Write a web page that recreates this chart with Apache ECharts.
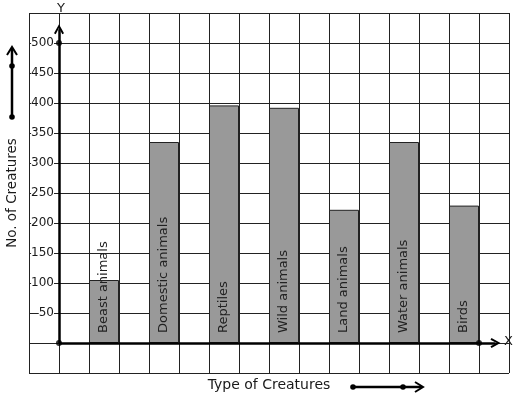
<!DOCTYPE html>
<html lang="en" style="height: 100%">
<head>
  <meta charset="utf-8">
</head>
<body style="height: 100%; margin: 0">
  <div id="container" style="width: 517px; height: 399px"></div>

  <script type="text/javascript" src="https://fastly.jsdelivr.net/npm/echarts@6/dist/echarts.min.js"></script>

  <script type="text/javascript">
    const creatures = ['Beast animals', 'Domestic animals', 'Reptiles', 'Wild animals', 'Land animals', 'Water animals', 'Birds'];
    const counts = [105, 335, 396, 392, 222, 335, 229];
    const yTicks = [50, 100, 150, 200, 250, 300, 350, 400, 450, 500];

    const font = 'DejaVu Sans';
    const ink = '#1a1a1a';

    // each bar sits in every second column of the squared paper
    const barData = creatures.map(function (name, i) {
      return { name: name, value: [1.5 + 2 * i, counts[i]] };
    });

    const chevron = 'path://M0,9 L5,0 L10,9 L8.3,10 L5,3.8 L1.7,10 Z';
    // the visible thick axes are mark lines; the axes themselves are shifted one square inwards
    const hiddenLine = { show: false, onZero: false };

    var dom = document.getElementById('container');
    var myChart = echarts.init(dom, null, { renderer: 'canvas' });

    var option = {
      animation: false,
      grid: { left: 29, right: 8, top: 13, bottom: 26, containLabel: false, outerBoundsMode: 'none' },
      xAxis: {
        type: 'value',
        min: -1,
        max: 15,
        interval: 1,
        offset: -30,
        name: 'Type of Creatures',
        nameLocation: 'middle',
        nameGap: 35,
        nameTextStyle: { fontFamily: font, fontSize: 14, color: ink },
        axisLine: hiddenLine,
        axisTick: { show: false },
        axisLabel: { show: false },
        splitLine: { show: true, lineStyle: { color: '#222', width: 1 } }
      },
      yAxis: {
        type: 'value',
        min: -50,
        max: 550,
        interval: 50,
        offset: -30,
        name: 'No. of Creatures',
        nameLocation: 'middle',
        nameGap: 40,
        nameRotate: 90,
        nameTextStyle: { fontFamily: font, fontSize: 13.5, color: ink },
        axisLine: hiddenLine,
        axisTick: { show: false },
        axisLabel: {
          margin: 5,
          fontFamily: font,
          fontSize: 12,
          color: ink,
          backgroundColor: '#fff',
          padding: [1, 0, 1, 0],
          formatter: function (v) { return yTicks.indexOf(v) >= 0 ? String(v) : ''; }
        },
        splitLine: { show: true, lineStyle: { color: '#222', width: 1 } }
      },
      series: [
        {
          type: 'bar',
          barWidth: 30,
          itemStyle: { color: '#999999', borderColor: '#222', borderWidth: 1 },
          label: {
            show: true,
            position: 'insideBottom',
            rotate: 90,
            align: 'left',
            verticalAlign: 'middle',
            distance: 10,
            formatter: '{b}',
            fontFamily: font,
            fontSize: 13,
            color: '#222'
          },
          data: barData,
          markLine: {
            silent: true,
            symbol: ['none', chevron],
            symbolSize: [10, 10],
            label: { show: false },
            lineStyle: { color: '#000', width: 2.5, type: 'solid' },
            data: [
              [{ coord: [0, 0] }, { coord: [0, 523] }],
              [{ coord: [0, 0] }, { coord: [14.55, 0] }]
            ]
          }
        },
        {
          type: 'scatter',
          silent: true,
          symbolSize: 6,
          itemStyle: { color: '#000' },
          data: [[0, 0], [0, 500], [14, 0]]
        }
      ],
      graphic: [
        { type: 'text', left: 55, top: 2, style: { text: 'Y', fontFamily: font, fontSize: 13, fill: ink, backgroundColor: '#fff', padding: [0, 2] } },
        { type: 'text', left: 503, top: 335, style: { text: 'X', fontFamily: font, fontSize: 13, fill: ink, backgroundColor: '#fff', padding: [0, 1] } },
        // arrow beside the vertical title
        { type: 'line', shape: { x1: 12, y1: 117, x2: 12, y2: 48 }, style: { stroke: '#000', lineWidth: 2.5 } },
        { type: 'polyline', shape: { points: [[7, 55], [12, 47], [17, 55]] }, style: { stroke: '#000', lineWidth: 2, fill: null } },
        { type: 'circle', shape: { cx: 12, cy: 117, r: 2.8 }, style: { fill: '#000' } },
        { type: 'circle', shape: { cx: 12, cy: 66, r: 2.8 }, style: { fill: '#000' } },
        // arrow beside the horizontal title
        { type: 'line', shape: { x1: 353, y1: 387, x2: 422, y2: 387 }, style: { stroke: '#000', lineWidth: 2.5 } },
        { type: 'polyline', shape: { points: [[415, 382], [423, 387], [415, 392]] }, style: { stroke: '#000', lineWidth: 2, fill: null } },
        { type: 'circle', shape: { cx: 353, cy: 387, r: 2.8 }, style: { fill: '#000' } },
        { type: 'circle', shape: { cx: 403, cy: 387, r: 2.8 }, style: { fill: '#000' } }
      ]
    };

    myChart.setOption(option);
    window.addEventListener('resize', myChart.resize);
  </script>
</body>
</html>
